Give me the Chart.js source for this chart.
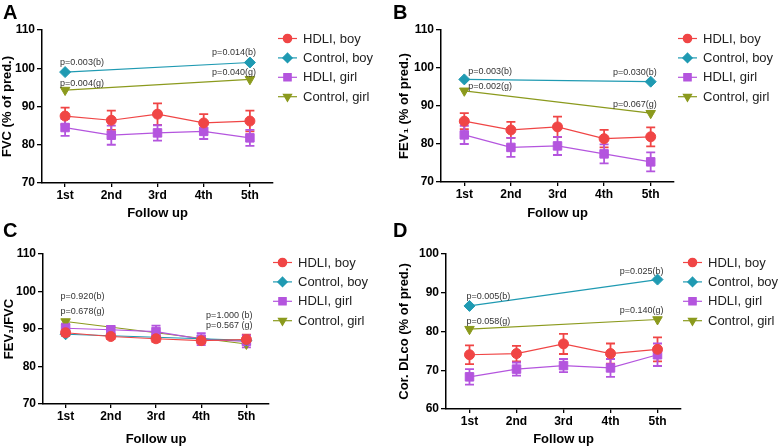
<!DOCTYPE html>
<html lang="en">
<head>
<meta charset="UTF-8">
<title>Lung function follow up</title>
<script src="https://cdn.jsdelivr.net/npm/chart.js"></script>
<style>
  body { margin: 0; background: #fff; font-family: 'Liberation Sans', Arial, sans-serif; }
  .figure { position: relative; width: 778px; height: 447px; overflow: hidden; }
  .figure canvas { position: absolute; }
  .letter { position: absolute; font-weight: bold; font-size: 20px; line-height: 20px; color: #000; }
</style>
</head>
<body>
<div class="figure">
  <canvas id="chartA" width="389" height="223" style="left:0;top:0"></canvas>
  <canvas id="chartB" width="389" height="223" style="left:389px;top:0"></canvas>
  <canvas id="chartC" width="389" height="224" style="left:0;top:223px"></canvas>
  <canvas id="chartD" width="389" height="224" style="left:389px;top:223px"></canvas>
  <div class="letter" style="left:3px;top:2px">A</div>
  <div class="letter" style="left:393px;top:2px">B</div>
  <div class="letter" style="left:3px;top:220px">C</div>
  <div class="letter" style="left:393px;top:220px">D</div>
</div>
<script>
  const FONT = "'Liberation Sans', Arial, sans-serif";

  const followUps = ['1st', '2nd', '3rd', '4th', '5th'];
  const seriesNames = ['HDLI, boy', 'Control, boy', 'HDLI, girl', 'Control, girl'];

  // A: FVC
  const fvcHdliBoy = [87.5, 86.4, 88.0, 85.7, 86.2];
  const fvcHdliBoyErr = [2.2, 2.5, 2.8, 2.3, 2.7];
  const fvcControlBoy = [99.0, null, null, null, 101.5];
  const fvcHdliGirl = [84.5, 82.5, 83.1, 83.5, 81.8];
  const fvcHdliGirlErr = [2.2, 2.5, 2.0, 2.0, 2.1];
  const fvcControlGirl = [94.3, null, null, null, 97.1];
  const fvcNotes = [
    { text: 'p=0.003(b)', index: 0, value: 101.4 },
    { text: 'p=0.014(b)', index: 4, value: 104.2 },
    { text: 'p=0.004(g)', index: 0, value: 96.1 },
    { text: 'p=0.040(g)', index: 4, value: 99.0 }
  ];

  // B: FEV1
  const fev1HdliBoy = [86.0, 83.7, 84.5, 81.4, 81.9];
  const fev1HdliBoyErr = [2.1, 2.1, 2.7, 2.3, 2.5];
  const fev1ControlBoy = [97.0, null, null, null, 96.4];
  const fev1HdliGirl = [82.4, 79.1, 79.5, 77.4, 75.3];
  const fev1HdliGirlErr = [2.4, 2.5, 2.4, 2.5, 2.5];
  const fev1ControlGirl = [94.0, null, null, null, 88.1];
  const fev1Notes = [
    { text: 'p=0.003(b)', index: 0, value: 99.2 },
    { text: 'p=0.030(b)', index: 4, value: 98.8 },
    { text: 'p=0.002(g)', index: 0, value: 95.0 },
    { text: 'p=0.067(g)', index: 4, value: 90.5 }
  ];

  // C: FEV1/FVC
  const ratioHdliBoy = [89.0, 88.0, 87.4, 86.9, 87.2];
  const ratioHdliBoyErr = [0.8, 0.7, 0.8, 0.7, 1.3];
  const ratioControlBoy = [88.6, null, null, null, 87.0];
  const ratioHdliGirl = [90.2, 89.8, 89.3, 87.3, 86.7];
  const ratioHdliGirlErr = [1.2, 1.0, 1.6, 1.6, 1.6];
  const ratioControlGirl = [92.0, null, null, null, 86.0];
  const ratioNotes = [
    { text: 'p=0.920(b)', index: 0, value: 98.6 },
    { text: 'p=0.678(g)', index: 0, value: 94.6 },
    { text: 'p=1.000 (b)', index: 4, value: 93.7 },
    { text: 'p=0.567 (g)', index: 4, value: 90.8 }
  ];

  // D: corrected DLco
  const dlcoHdliBoy = [74.0, 74.3, 76.8, 74.3, 75.4];
  const dlcoHdliBoyErr = [2.4, 2.0, 2.6, 2.6, 3.1];
  const dlcoControlBoy = [86.6, null, null, null, 93.4];
  const dlcoHdliGirl = [68.3, 70.3, 71.2, 70.6, 74.0];
  const dlcoHdliGirlErr = [2.0, 1.7, 1.7, 2.3, 2.9];
  const dlcoControlGirl = [80.6, null, null, null, 83.1];
  const dlcoNotes = [
    { text: 'p=0.005(b)', index: 0, value: 89.0 },
    { text: 'p=0.025(b)', index: 4, value: 95.4 },
    { text: 'p=0.058(g)', index: 0, value: 82.5 },
    { text: 'p=0.140(g)', index: 4, value: 85.3 }
  ];

  const seriesStyles = [
    { color: '#f04545', pointStyle: 'circle', radius: 5, rotation: 0 },
    { color: '#1f9ab2', pointStyle: 'rectRot', radius: 5.5, rotation: 0 },
    { color: '#b455de', pointStyle: 'rect', radius: 6, rotation: 0 },
    { color: '#8b9a1d', pointStyle: 'triangle', radius: 5.5, rotation: 180 }
  ];

  // error bars under the markers
  const errorBars = {
    id: 'errorBars',
    beforeDatasetsDraw(chart) {
      const ctx = chart.ctx, y = chart.scales.y;
      chart.data.datasets.forEach((ds, i) => {
        if (!ds.errors) return;
        const meta = chart.getDatasetMeta(i);
        ctx.save();
        ctx.strokeStyle = ds.borderColor;
        ctx.lineWidth = 1.8;
        meta.data.forEach((pt, j) => {
          const v = ds.data[j], e = ds.errors[j];
          if (v == null) return;
          const top = y.getPixelForValue(v + e), bot = y.getPixelForValue(v - e);
          ctx.beginPath();
          ctx.moveTo(pt.x, top); ctx.lineTo(pt.x, bot);
          ctx.moveTo(pt.x - 4.5, top); ctx.lineTo(pt.x + 4.5, top);
          ctx.moveTo(pt.x - 4.5, bot); ctx.lineTo(pt.x + 4.5, bot);
          ctx.stroke();
        });
        ctx.restore();
      });
    }
  };

  // p-value notes
  const pNotes = {
    id: 'pNotes',
    afterDatasetsDraw(chart, args, opts) {
      const ctx = chart.ctx, x = chart.scales.x, y = chart.scales.y;
      ctx.save();
      ctx.font = '9px ' + FONT;
      ctx.fillStyle = '#333';
      ctx.textBaseline = 'middle';
      (opts.notes || []).forEach(n => {
        const px = x.getPixelForValue(n.index), py = y.getPixelForValue(n.value);
        if (n.index === 0) {
          ctx.textAlign = 'left';
          ctx.fillText(n.text, px + opts.leftDx, py);
        } else {
          ctx.textAlign = 'right';
          ctx.fillText(n.text, px + 6, py);
        }
      });
      ctx.restore();
    }
  };

  // legend: line with marker, to the right of the plot
  const sideLegend = {
    id: 'sideLegend',
    afterDraw(chart, args, opts) {
      const ctx = chart.ctx, area = chart.chartArea;
      chart.data.datasets.forEach((ds, i) => {
        const ly = area.top + 8.5 + i * 19.4;
        const x0 = area.right + opts.dx - 25;
        ctx.save();
        ctx.strokeStyle = ds.borderColor;
        ctx.fillStyle = ds.borderColor;
        ctx.lineWidth = 1.2;
        ctx.beginPath();
        ctx.moveTo(x0, ly); ctx.lineTo(x0 + 19, ly);
        ctx.stroke();
        Chart.helpers.drawPoint(ctx, {
          pointStyle: ds.pointStyle, rotation: ds.pointRotation,
          radius: ds.pointRadius - 0.8, borderWidth: 1
        }, x0 + 9.5, ly);
        ctx.fillStyle = '#222';
        ctx.font = '13px ' + FONT;
        ctx.textAlign = 'left';
        ctx.textBaseline = 'middle';
        ctx.fillText(ds.label, area.right + opts.dx, ly + 0.5);
        ctx.restore();
      });
    }
  };

  function makeDataset(i, values, errors) {
    const s = seriesStyles[i];
    return {
      label: seriesNames[i],
      data: values,
      errors: errors,
      borderColor: s.color,
      backgroundColor: s.color,
      borderWidth: 1.2,
      pointStyle: s.pointStyle,
      pointRadius: s.radius,
      pointRotation: s.rotation,
      pointBorderWidth: 1,
      spanGaps: true,
      tension: 0
    };
  }

  function makePanel(p) {
    const axisFont = { family: FONT, size: 12, weight: 'bold' };
    new Chart(document.getElementById(p.id), {
      type: 'line',
      data: {
        labels: followUps,
        datasets: [
          makeDataset(0, p.series[0], p.errors[0]),
          makeDataset(1, p.series[1], null),
          makeDataset(2, p.series[2], p.errors[1]),
          makeDataset(3, p.series[3], null)
        ]
      },
      options: {
        responsive: false,
        animation: false,
        devicePixelRatio: 1,
        layout: { padding: { left: 0, top: p.top, right: p.width - p.right, bottom: 0 } },
        plugins: {
          legend: { display: false },
          tooltip: { enabled: false },
          pNotes: { notes: p.notes, leftDx: p.noteLeftDx },
          sideLegend: { dx: p.legendDx }
        },
        scales: {
          x: {
            offset: true,
            grid: { display: true, offset: false, drawOnChartArea: false, drawTicks: true, tickLength: 4, color: '#000', lineWidth: 1.3 },
            border: { color: '#000', width: 1.5 },
            ticks: { color: '#000', font: axisFont, padding: 1, maxRotation: 0 },
            title: { display: true, text: 'Follow up', color: '#000', font: { family: FONT, size: 13, weight: 'bold' }, padding: { top: 0, bottom: p.xTitlePad } },
            afterFit(scale) { scale.height = p.height - p.bottom; }
          },
          y: {
            min: p.yMin, max: p.yMax,
            ticks: { stepSize: 10, color: '#000', font: axisFont, padding: 2 },
            grid: { display: true, drawOnChartArea: false, drawTicks: true, tickLength: 5, color: '#000', lineWidth: 1.3 },
            border: { color: '#000', width: 1.5 },
            title: { display: true, text: p.yTitle, color: '#000', font: { family: FONT, size: 13, weight: 'bold' }, padding: { top: p.yTitlePad, bottom: 0 } },
            afterFit(scale) { scale.width = p.left; }
          }
        }
      },
      plugins: [errorBars, pNotes, sideLegend]
    });
  }

  makePanel({
    id: 'chartA', width: 389, height: 223, left: 42, right: 273, top: 30, bottom: 183,
    yMin: 70, yMax: 110, yTitle: 'FVC (% of pred.)', yTitlePad: 0, xTitlePad: 2, noteLeftDx: -5, legendDx: 30,
    series: [fvcHdliBoy, fvcControlBoy, fvcHdliGirl, fvcControlGirl],
    errors: [fvcHdliBoyErr, fvcHdliGirlErr], notes: fvcNotes
  });
  makePanel({
    id: 'chartB', width: 389, height: 223, left: 52, right: 285, top: 30, bottom: 182,
    yMin: 70, yMax: 110, yTitle: 'FEV\u2081 (% of pred.)', yTitlePad: 8, xTitlePad: 2, noteLeftDx: 4, legendDx: 29,
    series: [fev1HdliBoy, fev1ControlBoy, fev1HdliGirl, fev1ControlGirl],
    errors: [fev1HdliBoyErr, fev1HdliGirlErr], notes: fev1Notes
  });
  makePanel({
    id: 'chartC', width: 389, height: 224, left: 43, right: 269, top: 31, bottom: 181,
    yMin: 70, yMax: 110, yTitle: 'FEV\u2081/FVC', yTitlePad: 2, xTitlePad: 0, noteLeftDx: -5, legendDx: 29,
    series: [ratioHdliBoy, ratioControlBoy, ratioHdliGirl, ratioControlGirl],
    errors: [ratioHdliBoyErr, ratioHdliGirlErr], notes: ratioNotes
  });
  makePanel({
    id: 'chartD', width: 389, height: 224, left: 57, right: 292, top: 31, bottom: 186,
    yMin: 60, yMax: 100, yTitle: 'Cor. DLco (% of pred.)', yTitlePad: 8, xTitlePad: 0, noteLeftDx: -3, legendDx: 27,
    series: [dlcoHdliBoy, dlcoControlBoy, dlcoHdliGirl, dlcoControlGirl],
    errors: [dlcoHdliBoyErr, dlcoHdliGirlErr], notes: dlcoNotes
  });
</script>
</body>
</html>
